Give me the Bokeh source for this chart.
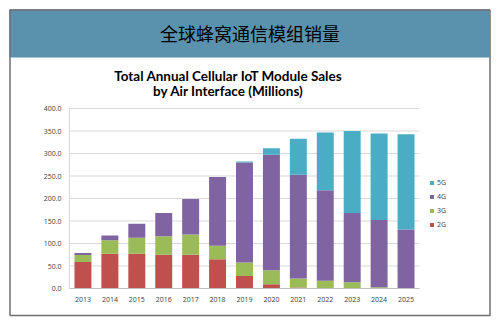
from bokeh.plotting import figure
from bokeh.models import (ColumnDataSource, Legend, LegendItem, Label, Range1d)
from bokeh.core.properties import value
from bokeh.embed import file_html
from bokeh.resources import INLINE

years = [2013, 2014, 2015, 2016, 2017, 2018, 2019, 2020, 2021, 2022, 2023, 2024, 2025]
g2 = [59, 77, 77, 75, 75, 65, 28, 9.5, 2, 0.5, 0, 0, 0]
g3 = [15.5, 30, 36, 41, 45, 30, 30, 31, 20, 17, 14, 3, 0.5]
g4 = [4.5, 11, 31, 52, 79, 153, 222, 257, 231, 201, 154, 149, 130.5]
g5 = [0, 0, 0, 0, 0, 0, 2, 14, 80, 128, 182, 192.5, 212]
series = ["2G", "3G", "4G", "5G"]
colors = ["#c0504d", "#9bbb59", "#8064a2", "#4bacc6"]
y_ticks = [0, 50, 100, 150, 200, 250, 300, 350, 400]
y_labels = ["%.1f" % t for t in y_ticks]
x_labels = [str(y) for y in years]

header_text = "全球蜂窝通信模组销量"
chart_title = ["Total Annual Cellular IoT Module Sales", "by Air Interface (Millions)"]

W, H = 498, 324
# plot area in page pixels
PL, PR, PT, PB = 69, 419, 108, 288
YMAX = 400.0

source = ColumnDataSource(dict(year=years, **{"2G": g2, "3G": g3, "4G": g4, "5G": g5}))

p = figure(width=W, height=H, x_range=Range1d(0, W), y_range=Range1d(H, 0),
           x_axis_type=None, y_axis_type=None,
           output_backend="svg", toolbar_location=None, min_border=0)
p.outline_line_color = None
p.background_fill_color = "white"
p.border_fill_color = "white"
p.grid.visible = False

# data ranges mapped onto the plot area
cat_w = (PR - PL) / len(years)
x0 = years[0] - 0.5
x1 = years[-1] + 0.5
p.extra_x_ranges = {"xr": Range1d(x0 - PL / cat_w, x1 + (W - PR) / cat_w)}
ppu = (PB - PT) / YMAX
p.extra_y_ranges = {"yr": Range1d(-(H - PB) / ppu, YMAX + PT / ppu)}

# header band and frame
p.quad(left=[9], right=[489], top=[9], bottom=[57], fill_color="#5a92ad", line_color=None)
p.quad(left=[9.5], right=[489.5], top=[9.5], bottom=[315], fill_alpha=0,
       line_color="#6e6e6e", line_width=1.5)
p.add_layout(Label(x=249.5, y=32, text=header_text, text_align="center",
                   text_baseline="middle", text_font="Noto Sans CJK SC",
                   text_font_size="18px", text_color="black"))
for i, t in enumerate(chart_title):
    p.add_layout(Label(x=228, y=75 + i * 15, text=t, text_align="center",
                       text_baseline="alphabetic", text_font="Lato",
                       text_font_style="bold", text_font_size="13.5px",
                       text_color="black"))

# gridlines and axis lines
p.segment(x0=[x0] * len(y_ticks[1:]), x1=[x1] * len(y_ticks[1:]), y0=y_ticks[1:], y1=y_ticks[1:],
          line_color="#d9d9d9", line_width=1, x_range_name="xr", y_range_name="yr")
p.segment(x0=[x0], x1=[x0], y0=[0], y1=[y_ticks[-1]], line_color="#d9d9d9",
          x_range_name="xr", y_range_name="yr")

renderers = p.vbar_stack(series, x="year", width=0.63, color=colors, line_color=None,
                         source=source, x_range_name="xr", y_range_name="yr")

p.segment(x0=[x0], x1=[x1], y0=[0], y1=[0], line_color="#bfbfbf",
          x_range_name="xr", y_range_name="yr")

# tick labels
p.text(x=[x0] * len(y_ticks), y=y_ticks, text=y_labels, x_offset=-8,
       text_align="right", text_baseline="middle", text_font=value("Open Sans"),
       text_font_size="7px", text_color="#404040", x_range_name="xr", y_range_name="yr")
p.text(x=years, y=[0] * len(years), text=x_labels, y_offset=11,
       text_align="center", text_baseline="middle", text_font=value("Open Sans"),
       text_font_size="7px", text_color="#404040", x_range_name="xr", y_range_name="yr")

items = [LegendItem(label=s, renderers=[r]) for s, r in zip(series, renderers)][::-1]
legend = Legend(items=items, location=(429, 95), orientation="vertical",
                glyph_width=5, glyph_height=5, label_height=10, spacing=4,
                padding=0, margin=0, label_standoff=3,
                label_text_font="Open Sans", label_text_font_size="7px",
                label_text_color="#404040", border_line_color=None,
                background_fill_alpha=0)
p.add_layout(legend, "center")

open("out.html", "w").write(file_html(p, INLINE))
